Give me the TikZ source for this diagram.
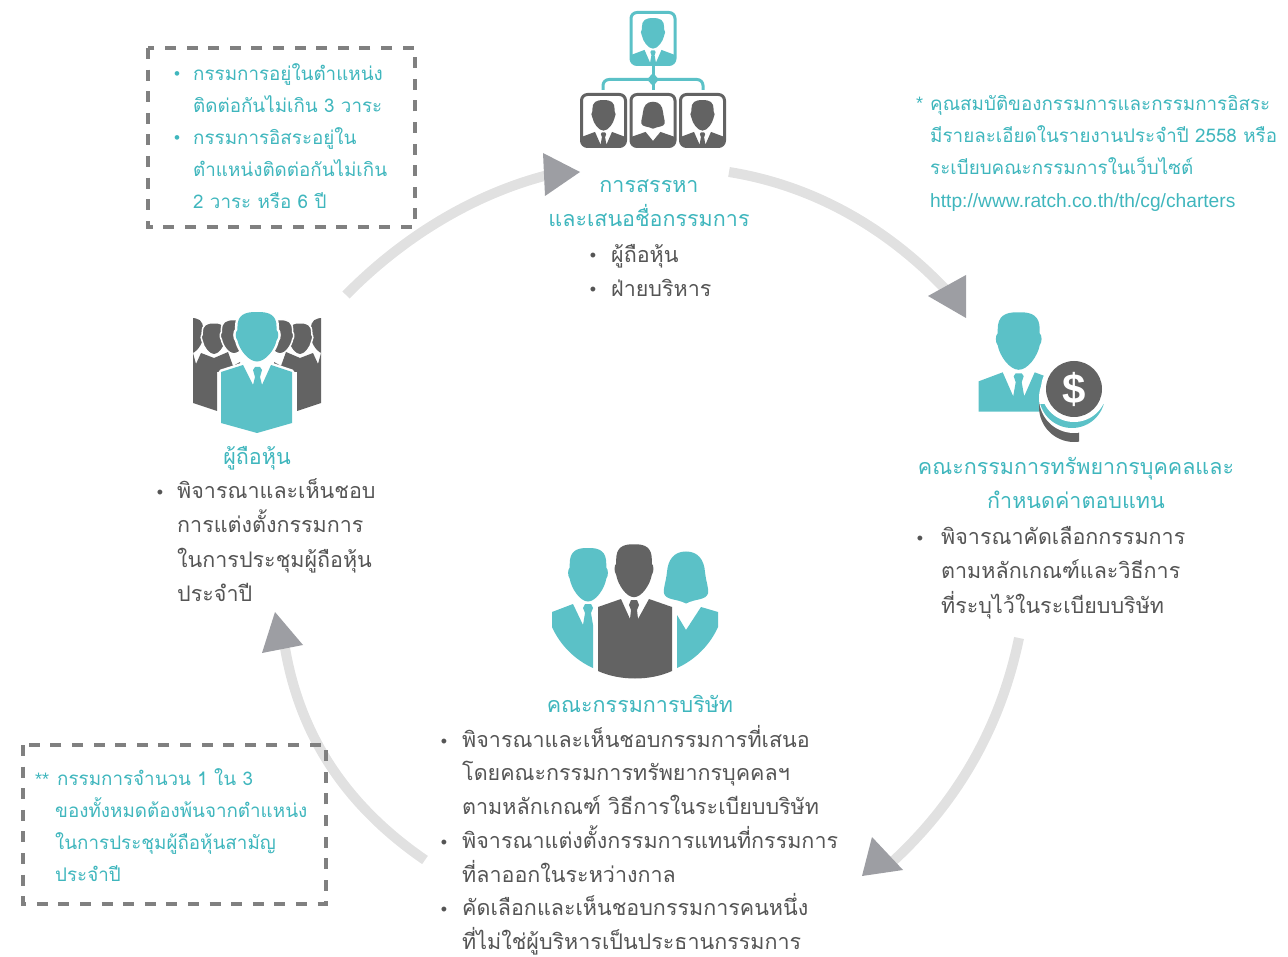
\documentclass[tikz,border=0pt]{standalone}
\usepackage{fontspec}
\setmainfont{Liberation Sans}
\newfontfamily\thaifont[Script=Thai]{Loma}
\definecolor{iconteal}{HTML}{5BC1C7}
\definecolor{icongray}{HTML}{636363}
\definecolor{txtteal}{HTML}{3FB6BD}
\definecolor{txtgray}{HTML}{555555}
\definecolor{arcgray}{HTML}{E1E1E1}
\definecolor{tipgray}{HTML}{9D9EA3}
\definecolor{dashgray}{HTML}{808080}
\def\PmanHead{(0,-29) .. controls (-14,-29.5) and (-21,-25) .. (-21,-12) -- (-21,-8) .. controls (-23.5,-6) and (-23.5,1) .. (-21,4) .. controls (-19,15) and (-9,28.5) .. (0,28.5) .. controls (9,28.5) and (19,15) .. (21,4) .. controls (23.5,1) and (23.5,-6) .. (21,-8) -- (21,-12) .. controls (21,-25) and (14,-29.5) .. (0,-29) -- cycle}
\def\PwomanHead{(0,-26) .. controls (-12,-26) and (-18,-18) .. (-19,-6) .. controls (-20,4) and (-23,10) .. (-22,15) .. controls (-20,22) and (-10,20) .. (0,25) .. controls (10,20) and (20,22) .. (22,15) .. controls (23,10) and (20,4) .. (19,-6) .. controls (18,-18) and (12,-26) .. (0,-26) -- cycle}
\def\PmanBody#1{(-40,40) -- (-16,31) -- (-5.5,55) -- (-3,41) -- (-5,35) -- (-3,32) -- (3,32) -- (5,35) -- (3,41) -- (5.5,55) -- (16,31) -- (40,40) -- (40,#1) -- (-40,#1) -- cycle}
\def\PwomanBody#1{(-40,40) -- (-14,31) -- (0,48) -- (14,31) -- (40,40) -- (40,#1) -- (-40,#1) -- cycle}
\newcommand{\FrameBust}[5]{% x y colour, head path, body path
  \begin{scope}
    \clip[rounded corners=6pt] (#1-22,#2) rectangle (#1+22,#2+52);
    \begin{scope}[shift={(#1,#2+21)},scale=.53]
      \fill[#3] #4;
      \fill[#3] #5;
    \end{scope}
  \end{scope}
  \draw[#3,line width=3pt,rounded corners=6pt] (#1-22,#2) rectangle (#1+22,#2+52);
}
\tikzset{
  x=1pt,y=-1pt,
  arcline/.style={draw=arcgray,line width=10pt},
  tiphead/.style={fill=tipgray},
  notebox/.style={draw=dashgray,line width=3.6pt,dash pattern=on 11pt off 10.6pt},
  bodytext/.style={anchor=north west,inner sep=0pt,align=left,text=txtgray,font=\thaifont\fontsize{21.5}{34.5}\selectfont},
  headtext/.style={anchor=north,inner sep=0pt,align=center,text=txtteal,font=\thaifont\fontsize{21.5}{34.5}\selectfont},
  notetext/.style={anchor=north west,inner sep=0pt,align=left,text=txtteal,font=\thaifont\fontsize{18.8}{32.2}\selectfont},
  bulletmark/.style={anchor=base,inner sep=0pt,text=txtgray,font=\fontsize{18}{18}\selectfont},
  notebullet/.style={anchor=base,inner sep=0pt,text=txtteal,font=\fontsize{17}{17}\selectfont},
}
\newcommand{\FL}{\rule{0pt}{30pt}}
\begin{document}
\begin{tikzpicture}
\useasboundingbox (0,0) rectangle (1288,957);
% ---------- cycle arcs
\coordinate (a1s) at (346,295); \coordinate (a1e) at (548,175);
\coordinate (a2s) at (729,172); \coordinate (a2e) at (948,292);
\coordinate (a3s) at (1019,638); \coordinate (a3e) at (890,864);
\coordinate (a4s) at (425,860); \coordinate (a4e) at (285,648);
\draw[arcline] (a1s) .. controls (400,240) and (470,195) .. (a1e);
\draw[arcline] (a2s) .. controls (810,185) and (885,225) .. (a2e);
\draw[arcline] (a3s) .. controls (1000,730) and (955,805) .. (a3e);
\draw[arcline] (a4s) .. controls (345,805) and (300,735) .. (a4e);
\fill[tiphead] (580,172) -- (543,153) -- (545,196) -- cycle;
\fill[tiphead] (966,318) -- (928,296) -- (966,275) -- cycle;
\fill[tiphead] (862,876) -- (872,837) -- (903,870) -- cycle;
\fill[tiphead] (275,612) -- (262,653) -- (303,645) -- cycle;
% ---------- note boxes
\draw[notebox] (148,48) rectangle (415,227);
\draw[notebox] (23,745) rectangle (326,904);
% ---------- top icon
\FrameBust{653}{12.5}{iconteal}{\PmanHead}{\PmanBody{90}}
\FrameBust{603.5}{94.5}{icongray}{\PmanHead}{\PmanBody{90}}
\FrameBust{653}{94.5}{icongray}{\PwomanHead}{\PwomanBody{90}}
\FrameBust{702.5}{94.5}{icongray}{\PmanHead}{\PmanBody{90}}
\draw[iconteal,line width=3pt] (653,66) -- (653,90);
\draw[iconteal,line width=3pt,rounded corners=6pt] (603,90) -- (603,79.5) -- (703,79.5) -- (703,90);
\fill[iconteal] (653,73) -- (659,79.5) -- (653,86) -- (647,79.5) -- cycle;
% ---------- left icon
\begin{scope}
  \clip (193,300) rectangle (321,420);
  \foreach \m in {0,1}{
    \begin{scope}[shift={(257,0)},xscale={1-2*\m}]
      \begin{scope}[shift={(-67,336)},scale=.62] \fill[icongray] \PmanHead; \end{scope}
      \begin{scope}[shift={(-43,339)},scale=.56] \draw[white,line width=1.5pt,fill=icongray] \PmanHead; \end{scope}
      \begin{scope}[shift={(-23,337)},scale=.6] \draw[white,line width=1.5pt,fill=icongray] \PmanHead; \end{scope}
      \fill[icongray] (-64,353) -- (-61,364) -- (-56,353) -- (-43,358) -- (-29,352) -- (-24,366) -- (-17,362) -- (-17,372) -- (-40,372) -- (-40,411) -- (-64,403) -- cycle;
    \end{scope}
  }
\end{scope}
\def\PleftBody{(221,372) -- (243,365) -- (253,385) -- (255,377) -- (253,370) -- (255,367) -- (260,367) -- (262,370) -- (260,377) -- (262,385) -- (271,365) -- (292,372) -- (292,423) -- (257,433) -- (221,423) -- cycle}
\draw[white,line width=5pt,line join=round] \PleftBody;
\fill[iconteal] \PleftBody;
\begin{scope}[shift={(257,337)},xscale=.93,yscale=.86]
  \draw[white,line width=5pt] \PmanHead;
  \fill[iconteal] \PmanHead;
\end{scope}
% ---------- right icon
\begin{scope}[shift={(1018.7,341.3)}]
  \fill[iconteal] \PmanHead;
  \fill[iconteal] \PmanBody{70.4};
\end{scope}
\begin{scope}
  \clip (1030,405) rectangle (1079,450);
  \fill[icongray] (1074,407) circle[radius=35pt];
\end{scope}
\fill[white] (1074,398) circle[radius=35pt];
\begin{scope}
  \clip (1030,405) rectangle (1115,450);
  \fill[iconteal] (1072,395) circle[radius=33pt];
\end{scope}
\fill[white] (1074,389) circle[radius=33pt];
\fill[icongray] (1074,389) circle[radius=28pt];
\node[text=white,inner sep=0pt,font=\bfseries\fontsize{42}{42}\selectfont] (dollar) at (1074,389) {\$};
% ---------- bottom icon
\begin{scope}[shift={(588,575)},xscale=.87,yscale=.93] \fill[iconteal] \PmanHead; \end{scope}
\fill[iconteal] (552,612) -- (573,604) -- (583,625) -- (585,613) -- (583,608) -- (585,604) -- (591,604) -- (593,608) -- (591,613) -- (593,625) -- (593,668) .. controls (575,660) and (560,645) .. (552,627) -- cycle;
\begin{scope}[shift={(686,578)},xscale=1,yscale=1.02] \fill[iconteal] \PwomanHead; \end{scope}
\fill[iconteal] (677,615) -- (686,630) -- (701,607) -- (718,612) -- (718,627) .. controls (710,645) and (695,660) .. (677,668) -- cycle;
\begin{scope}[shift={(634,571)},xscale=.85,yscale=.92] \fill[icongray] \PmanHead; \end{scope}
\fill[icongray] (598,607) -- (621,599) -- (630,619) -- (631,610) -- (629,605) -- (631,600) -- (637,600) -- (639,605) -- (637,610) -- (638,619) -- (649,599) -- (672,607) -- (672,671) .. controls (650,681) and (620,681) .. (598,671) -- cycle;
% ---------- texts
\node[headtext] (h1) at (649,162) {\FL การสรรหา\\และเสนอชื่อกรรมการ};
\node[bodytext] (t1) at (611,232) {\FL ผู้ถือหุ้น\\ฝ่ายบริหาร};
\node[bulletmark] (b1a) at (593,262) {•};
\node[bulletmark] (b1b) at (593,296) {•};
\node[headtext] (h2) at (1076,444) {\FL คณะกรรมการทรัพยากรบุคคลและ\\กำหนดค่าตอบแทน};
\node[bodytext] (t2) at (941,514) {\FL พิจารณาคัดเลือกกรรมการ\\ตามหลักเกณฑ์และวิธีการ\\ที่ระบุไว้ในระเบียบบริษัท};
\node[bulletmark] (b2a) at (920,544) {•};
\node[headtext] (h3) at (640,682) {\FL คณะกรรมการบริษัท};
\node[bodytext,font=\thaifont\fontsize{21.5}{33.7}\selectfont] (t3) at (462,717) {\FL พิจารณาและเห็นชอบกรรมการที่เสนอ\\โดยคณะกรรมการทรัพยากรบุคคลฯ\\ตามหลักเกณฑ์ วิธีการในระเบียบบริษัท\\พิจารณาแต่งตั้งกรรมการแทนที่กรรมการ\\ที่ลาออกในระหว่างกาล\\คัดเลือกและเห็นชอบกรรมการคนหนึ่ง\\ที่ไม่ใช่ผู้บริหารเป็นประธานกรรมการ};
\node[bulletmark] (b3a) at (444,747) {•};
\node[bulletmark] (b3b) at (444,848) {•};
\node[bulletmark] (b3c) at (444,915.5) {•};
\node[headtext] (h4) at (257,434) {\FL ผู้ถือหุ้น};
\node[bodytext] (t4) at (177,468) {\FL พิจารณาและเห็นชอบ\\การแต่งตั้งกรรมการ\\ในการประชุมผู้ถือหุ้น\\ประจำปี};
\node[bulletmark] (b4a) at (160,498) {•};
\node[notetext] (n1) at (193,50) {\FL กรรมการอยู่ในตำแหน่ง\\ติดต่อกันไม่เกิน 3 วาระ\\กรรมการอิสระอยู่ใน\\ตำแหน่งติดต่อกันไม่เกิน\\2 วาระ หรือ 6 ปี};
\node[notebullet] (n1a) at (177,80) {•};
\node[notebullet] (n1b) at (177,144) {•};
\node[notetext] (n2) at (55,755) {\FL \hspace{2pt}กรรมการจำนวน 1 ใน 3\\ของทั้งหมดต้องพ้นจากตำแหน่ง\\ในการประชุมผู้ถือหุ้นสามัญ\\ประจำปี};
\node[anchor=base west,inner sep=0pt,text=txtteal,font=\fontsize{18}{18}\selectfont] (n2s) at (35,785) {**};
\node[notetext] (n3) at (930,80) {\FL คุณสมบัติของกรรมการและกรรมการอิสระ\\มีรายละเอียดในรายงานประจำปี 2558 หรือ\\ระเบียบคณะกรรมการในเว็บไซต์};
\node[anchor=base west,inner sep=0pt,text=txtteal,font=\fontsize{18}{18}\selectfont] (n3s) at (916,110) {*};
\node[anchor=base west,inner sep=0pt,text=txtteal,font=\fontsize{19.2}{19}\selectfont] (n3u) at (930,208) {http://www.ratch.co.th/th/cg/charters};
\end{tikzpicture}
\end{document}
